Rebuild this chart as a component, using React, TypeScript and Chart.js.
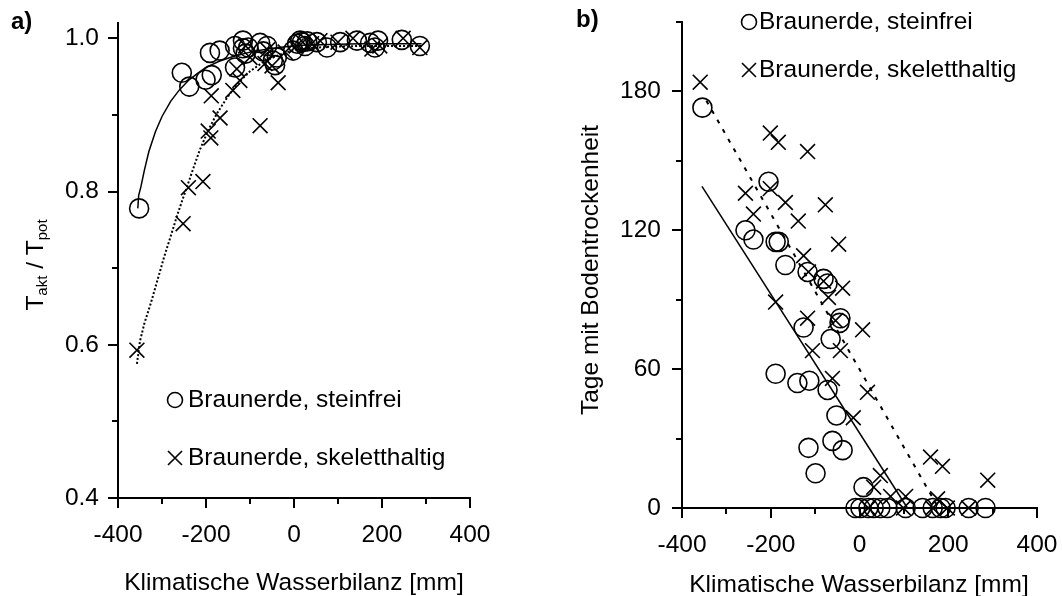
import React, { useEffect, useRef } from 'react';
import { Chart, registerables } from 'chart.js';

Chart.register(...registerables);

const FONT_FAMILY = '"Liberation Sans", Arial, Helvetica, sans-serif';
const FS = 24.5;

type P = [number, number];

// ---------- Panel a: T_akt / T_pot ----------
const aSteinfrei: P[] = [
  [-352, 0.778], [-255, 0.955], [-238, 0.937], [-201, 0.946], [-187, 0.952],
  [-191, 0.981], [-169, 0.984], [-134, 0.962], [-134, 0.99], [-116, 0.997],
  [-116, 0.987], [-104, 0.988], [-110, 0.98], [-77, 0.994], [-61, 0.99],
  [-70, 0.983], [-48, 0.971], [-39, 0.975], [-43, 0.965], [-2, 0.984],
  [7, 0.993], [14, 0.997], [18, 0.995], [25, 0.99], [30, 0.996], [52, 0.995],
  [75, 0.988], [105, 0.995], [143, 0.997], [173, 0.994], [184, 0.988],
  [191, 0.997], [245, 0.998], [286, 0.99],
];
const aSkelett: P[] = [
  [-357, 0.593], [-252, 0.758], [-240, 0.805], [-207, 0.813], [-195, 0.879],
  [-189, 0.87], [-168, 0.896], [-188, 0.925], [-139, 0.932], [-123, 0.945],
  [-130, 0.96], [-77, 0.886], [-66, 0.967], [-50, 0.964], [-36, 0.942],
  [-100, 0.975], [-110, 0.99], [-60, 0.985], [-20, 0.982], [5, 0.99],
  [20, 0.995], [40, 0.993], [59, 0.997], [100, 0.995], [134, 1.0],
  [177, 0.986], [195, 0.99], [248, 1.0], [286, 0.988],
];
const aSteinfreiFit: P[] = [
  [-355, 0.778], [-353, 0.795], [-348, 0.806], [-340, 0.828], [-330, 0.852],
  [-315, 0.878], [-300, 0.898], [-280, 0.918], [-260, 0.933], [-240, 0.945],
  [-220, 0.954], [-200, 0.962], [-170, 0.97], [-140, 0.976], [-100, 0.982],
  [-60, 0.986], [-20, 0.989], [20, 0.991], [80, 0.992], [150, 0.993], [290, 0.993],
];
const aSkelettFit: P[] = [
  [-357, 0.575], [-350, 0.605], [-340, 0.628], [-325, 0.655], [-310, 0.685],
  [-295, 0.715], [-280, 0.742], [-265, 0.77], [-250, 0.795], [-235, 0.82],
  [-215, 0.853], [-195, 0.88], [-175, 0.902], [-155, 0.92], [-130, 0.94],
  [-100, 0.957], [-70, 0.969], [-40, 0.977], [-10, 0.983], [30, 0.987],
  [80, 0.989], [150, 0.99], [290, 0.99],
];

// ---------- Panel b: Tage mit Bodentrockenheit ----------
const bSteinfrei: P[] = [
  [-354, 173], [-205, 141], [-257, 120], [-239, 116], [-189, 115], [-182, 115],
  [-167, 105], [-117, 102], [-81, 99], [-72, 97], [-43, 82], [-45, 80],
  [-126, 78], [-65, 73], [-189, 58], [-140, 54], [-113, 55], [-72, 51],
  [-52, 40], [-115, 26], [-61, 29], [-38, 25], [-99, 15], [9, 9],
  [-9, 0], [2, 0], [20, 0], [32, 0], [47, 0], [63, 0], [104, 0], [142, 0],
  [165, 0], [183, 0], [194, 0], [246, 0], [284, 0],
];
const bSkelett: P[] = [
  [-359, 184], [-201, 162], [-183, 158], [-117, 154], [-257, 136], [-201, 138],
  [-239, 127], [-167, 132], [-138, 124], [-77, 131], [-47, 114], [-126, 109],
  [-115, 102], [-81, 98], [-38, 95], [-70, 91], [-189, 89], [-117, 82],
  [-54, 81], [7, 77], [-106, 68], [-43, 68], [-61, 56], [18, 50], [-14, 39],
  [47, 14], [32, 9], [70, 5], [104, 5], [160, 22], [187, 18], [289, 12],
  [176, 4], [20, 0], [99, 0], [165, 0], [198, 0], [246, 0],
];
const bSteinfreiFit: P[] = [[-355, 139], [108, 0]];
const bSkelettFit: P[] = [[-345, 176], [178, 0]];

// ---------- ticks & labels ----------
const xMajorTicks = [-400, -200, 0, 200, 400];
const xMinorTicks = [-300, -100, 100, 300];
const aYMajorTicks = [0.4, 0.6, 0.8, 1.0];
const aYMinorTicks = [0.5, 0.7, 0.9];
const bYMajorTicks = [0, 60, 120, 180];
const bYMinorTicks = [30, 90, 150, 210];
const legendLabels = ['Braunerde, steinfrei', 'Braunerde, skeletthaltig'];
const xTitle = 'Klimatische Wasserbilanz [mm]';
const bYTitle = 'Tage mit Bodentrockenheit';

const toXY = (arr: P[]) => arr.map(([x, y]) => ({ x, y }));

function fixedAxis(size: number, horizontal: boolean) {
  return (s: any) => {
    if (horizontal) s.height = size;
    else s.width = size;
    s.paddingTop = 0;
    s.paddingBottom = 0;
    s.paddingLeft = 0;
    s.paddingRight = 0;
  };
}

type OverlayCfg = {
  yMajor: number[];
  yMinor: number[];
  legendX: number;
  legendTextX: number;
  legendY: number[];
  xTitlePos: [number, number];
  yTitlePos: [number, number];
  yTitle: { text: string; sub: boolean }[];
  panelLabel: string;
  panelLabelPos: [number, number];
};

function makeOverlay(cfg: OverlayCfg) {
  return {
    id: 'overlay',
    afterDraw(chart: any) {
      const ctx: CanvasRenderingContext2D = chart.ctx;
      const xs = chart.scales.x;
      const ys = chart.scales.y;
      const ca = chart.chartArea;
      ctx.save();
      ctx.strokeStyle = '#000';
      ctx.fillStyle = '#000';
      ctx.lineWidth = 2;
      // tick marks
      const yTick = (v: number, len: number) => {
        const py = Math.round(ys.getPixelForValue(v));
        ctx.beginPath();
        ctx.moveTo(ca.left - len, py);
        ctx.lineTo(ca.left, py);
        ctx.stroke();
      };
      const xTick = (v: number, len: number) => {
        const px = Math.round(xs.getPixelForValue(v));
        ctx.beginPath();
        ctx.moveTo(px, ca.bottom);
        ctx.lineTo(px, ca.bottom + len);
        ctx.stroke();
      };
      cfg.yMajor.forEach((v) => yTick(v, 10));
      cfg.yMinor.forEach((v) => yTick(v, 6));
      xMajorTicks.forEach((v) => xTick(v, 10));
      xMinorTicks.forEach((v) => xTick(v, 6));

      // legend
      ctx.font = `${FS}px ${FONT_FAMILY}`;
      ctx.textBaseline = 'middle';
      ctx.textAlign = 'left';
      ctx.lineWidth = 1.6;
      const [r0, r1] = cfg.legendY;
      ctx.beginPath();
      ctx.arc(cfg.legendX, r0, 7.5, 0, Math.PI * 2);
      ctx.stroke();
      ctx.fillText(legendLabels[0], cfg.legendTextX, r0);
      const h = 7;
      ctx.beginPath();
      ctx.moveTo(cfg.legendX - h, r1 - h);
      ctx.lineTo(cfg.legendX + h, r1 + h);
      ctx.moveTo(cfg.legendX + h, r1 - h);
      ctx.lineTo(cfg.legendX - h, r1 + h);
      ctx.stroke();
      ctx.fillText(legendLabels[1], cfg.legendTextX, r1);

      // x title
      ctx.textAlign = 'center';
      ctx.fillText(xTitle, cfg.xTitlePos[0], cfg.xTitlePos[1]);

      // y title (rotated, with optional subscripts)
      ctx.save();
      ctx.translate(cfg.yTitlePos[0], cfg.yTitlePos[1]);
      ctx.rotate(-Math.PI / 2);
      ctx.textAlign = 'left';
      const mainFont = `${FS}px ${FONT_FAMILY}`;
      const subFont = `15px ${FONT_FAMILY}`;
      let total = 0;
      cfg.yTitle.forEach((p) => {
        ctx.font = p.sub ? subFont : mainFont;
        total += ctx.measureText(p.text).width;
      });
      let cx = -total / 2;
      cfg.yTitle.forEach((p) => {
        ctx.font = p.sub ? subFont : mainFont;
        ctx.fillText(p.text, cx, p.sub ? 7 : 0);
        cx += ctx.measureText(p.text).width;
      });
      ctx.restore();

      // panel label
      ctx.font = `bold 24px ${FONT_FAMILY}`;
      ctx.textAlign = 'left';
      ctx.textBaseline = 'middle';
      ctx.fillText(cfg.panelLabel, cfg.panelLabelPos[0], cfg.panelLabelPos[1]);
      ctx.restore();
    },
  };
}

function pointSet(data: P[], style: string, radius: number) {
  return {
    data: toXY(data),
    pointStyle: style,
    pointRadius: radius,
    pointHoverRadius: radius,
    pointBorderWidth: 1.6,
    borderColor: '#000',
    backgroundColor: 'rgba(0,0,0,0)',
    pointBackgroundColor: 'rgba(0,0,0,0)',
    pointBorderColor: '#000',
    showLine: false,
    clip: false as any,
  };
}

function lineSet(data: P[], dash: number[], width: number) {
  return {
    data: toXY(data),
    showLine: true,
    pointRadius: 0,
    borderColor: '#000',
    borderWidth: width,
    borderDash: dash,
    backgroundColor: 'rgba(0,0,0,0)',
    fill: false,
    tension: 0,
    clip: false as any,
  };
}

function makeConfig(opts: {
  data: any[];
  yMin: number;
  yMax: number;
  yMajor: number[];
  yFmt: (v: number) => string;
  yPad: number;
  yWidth: number;
  xHeight: number;
  padding: any;
  overlay: any;
}) {
  const tickFont = { family: FONT_FAMILY, size: FS };
  return {
    type: 'scatter' as const,
    data: { datasets: opts.data },
    options: {
      animation: false as const,
      responsive: false,
      devicePixelRatio: 1,
      layout: { padding: opts.padding },
      plugins: { legend: { display: false }, tooltip: { enabled: false }, title: { display: false } },
      scales: {
        x: {
          type: 'linear' as const,
          min: -400,
          max: 400,
          afterBuildTicks: (s: any) => {
            s.ticks = xMajorTicks.map((v) => ({ value: v }));
          },
          afterFit: fixedAxis(opts.xHeight, true),
          grid: { display: true, drawOnChartArea: false, drawTicks: false },
          border: { display: true, color: '#000', width: 2 },
          ticks: {
            color: '#000',
            font: tickFont,
            padding: 23,
            autoSkip: false,
            maxRotation: 0,
            callback: (v: any) => String(v),
          },
        },
        y: {
          type: 'linear' as const,
          min: opts.yMin,
          max: opts.yMax,
          afterBuildTicks: (s: any) => {
            s.ticks = opts.yMajor.map((v) => ({ value: v }));
          },
          afterFit: fixedAxis(opts.yWidth, false),
          grid: { display: true, drawOnChartArea: false, drawTicks: false },
          border: { display: true, color: '#000', width: 2 },
          ticks: {
            color: '#000',
            font: tickFont,
            padding: opts.yPad,
            autoSkip: false,
            callback: (v: any) => opts.yFmt(Number(v)),
          },
        },
      },
    },
    plugins: [opts.overlay],
  };
}

function PanelA() {
  const ref = useRef<HTMLCanvasElement>(null);
  useEffect(() => {
    if (!ref.current) return;
    const overlay = makeOverlay({
      yMajor: aYMajorTicks,
      yMinor: aYMinorTicks,
      legendX: 175,
      legendTextX: 188,
      legendY: [400, 458],
      xTitlePos: [294, 583],
      yTitlePos: [36, 265],
      yTitle: [
        { text: 'T', sub: false },
        { text: 'akt', sub: true },
        { text: ' / T', sub: false },
        { text: 'pot', sub: true },
      ],
      panelLabel: 'a)',
      panelLabelPos: [11, 22],
    });
    const chart = new Chart(
      ref.current,
      makeConfig({
        data: [
          lineSet(aSteinfreiFit, [], 1.5),
          lineSet(aSkelettFit, [2, 2], 2),
          pointSet(aSteinfrei, 'circle', 9.5),
          pointSet(aSkelett, 'crossRot', 10.5),
        ],
        yMin: 0.4,
        yMax: 1.02,
        yMajor: aYMajorTicks,
        yFmt: (v) => v.toFixed(1),
        yPad: 19,
        yWidth: 118,
        xHeight: 98,
        padding: { top: 23, right: 70, left: 0, bottom: 0 },
        overlay,
      }) as any
    );
    return () => chart.destroy();
  }, []);
  return (
    <canvas
      ref={ref}
      width={540}
      height={596}
      style={{ position: 'absolute', left: 0, top: 0, width: 540, height: 596, display: 'block' }}
    />
  );
}

function PanelB() {
  const ref = useRef<HTMLCanvasElement>(null);
  useEffect(() => {
    if (!ref.current) return;
    const overlay = makeOverlay({
      yMajor: bYMajorTicks,
      yMinor: bYMinorTicks,
      legendX: 209,
      legendTextX: 219,
      legendY: [22, 70],
      xTitlePos: [319, 585],
      yTitlePos: [51, 270],
      yTitle: [{ text: bYTitle, sub: false }],
      panelLabel: 'b)',
      panelLabelPos: [36, 20],
    });
    const chart = new Chart(
      ref.current,
      makeConfig({
        data: [
          lineSet(bSteinfreiFit, [], 1.5),
          lineSet(bSkelettFit, [4, 7], 2),
          pointSet(bSteinfrei, 'circle', 9.5),
          pointSet(bSkelett, 'crossRot', 10.5),
        ],
        yMin: 0,
        yMax: 210,
        yMajor: bYMajorTicks,
        yFmt: (v) => String(v),
        yPad: 21,
        yWidth: 142,
        xHeight: 88,
        padding: { top: 22, right: 25, left: 0, bottom: 0 },
        overlay,
      }) as any
    );
    return () => chart.destroy();
  }, []);
  return (
    <canvas
      ref={ref}
      width={522}
      height={596}
      style={{ position: 'absolute', left: 540, top: 0, width: 522, height: 596, display: 'block' }}
    />
  );
}

export default function App() {
  return (
    <div
      style={{
        position: 'fixed',
        left: 0,
        top: 0,
        width: 1062,
        height: 596,
        background: '#fff',
        overflow: 'hidden',
      }}
    >
      <PanelA />
      <PanelB />
    </div>
  );
}
